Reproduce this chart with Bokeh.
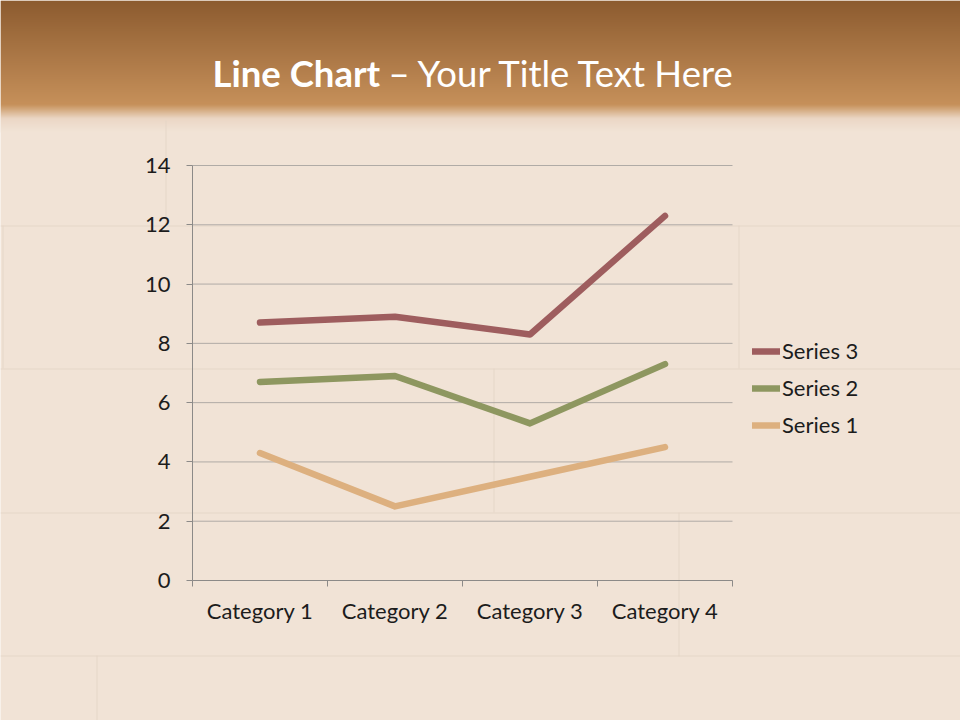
import numpy as np
from bokeh.plotting import figure
from bokeh.models import Range1d, FixedTicker, Legend, LegendItem
from bokeh.core.properties import value
from bokeh.embed import file_html
from bokeh.resources import INLINE

# ---- data ----
categories = ["Category 1", "Category 2", "Category 3", "Category 4"]
series1 = [4.3, 2.5, 3.5, 4.5]
series2 = [2.4, 4.4, 1.8, 2.8]
series3 = [2.0, 2.0, 3.0, 5.0]
series_names = ["Series 1", "Series 2", "Series 3"]
y_ticks = [0, 2, 4, 6, 8, 10, 12, 14]
title_bold = "Line Chart"
title_rest = "\u2013 Your Title Text Here"

# ---- style ----
FONT = "Lato"
BG = "#F1E3D6"
SEAM = "#E4D4C5"
colors = ["#DDB07F", "#8E9760", "#9E5D5E"]
axis_gray = "#8C8A88"
grid_gray = "#B0ABA6"
text_col = "#1C1C1C"

W, H = 960, 720
# plot-area box on the page (pixels)
PL, PR, PT, PB = 192, 732, 165, 580
n = len(categories)
ymax = 14

# data ranges chosen so that [0,n]x[0,ymax] falls on the plot-area box
sx = (PR - PL) / n
sy = (PB - PT) / ymax
x_range = Range1d(-PL / sx, (W - PL) / sx)
y_range = Range1d(-(H - PB) / sy, PB / sy)

p = figure(width=W, height=H, x_range=x_range, y_range=y_range,
           output_backend="svg", toolbar_location=None, min_border=0)
p.extra_x_ranges = {"px": Range1d(0, W)}
p.extra_y_ranges = {"px": Range1d(H, 0), "pxu": Range1d(0, H)}
p.title.visible = False
p.background_fill_color = BG
p.border_fill_color = BG
p.outline_line_color = None
p.grid.visible = False

# ---- banner gradient (decoration, page pixels) ----
BAND = 132
stops_y = [0, 104, 110, 118, 131]
stops_c = [(140, 91, 47), (198, 144, 90), (214, 174, 134), (235, 215, 197), (241, 227, 214)]
img = np.zeros((BAND, 1), dtype=np.uint32)
view = img.view(dtype=np.uint8).reshape((BAND, 1, 4))
for row in range(BAND):
    yy = BAND - 1 - row + 0.5  # row 0 is the bottom of the band
    for k in range(3):
        view[row, 0, k] = int(round(np.interp(yy, stops_y, [c[k] for c in stops_c])))
    view[row, 0, 3] = 255
p.image_rgba(image=[img], x=0, y=H - BAND, dw=W, dh=BAND, x_range_name="px", y_range_name="pxu")

# faint plank seams
seams_x0 = [165, 0, 2, 0, 493, 0, 678, 0, 96, 738]
seams_y0 = [120, 225, 225, 368, 368, 512, 512, 655, 655, 225]
seams_x1 = [166, 960, 3, 960, 494, 960, 679, 960, 97, 739]
seams_y1 = [225, 226, 368, 369, 512, 513, 656, 656, 720, 368]
p.quad(left=seams_x0, right=seams_x1, top=seams_y0, bottom=seams_y1, fill_color=SEAM,
       fill_alpha=0.8, line_color=None, x_range_name="px", y_range_name="px")

# title
p.text(x=[212], y=[72], text=[title_bold], text_font=value(FONT), text_font_style="bold",
       text_font_size="36.5px", text_color="white", text_baseline="alphabetic", text_align="left",
       x_range_name="px", y_range_name="px")
p.text(x=[388], y=[72], text=[title_rest], text_font=value(FONT),
       text_font_size="36.5px", text_color="white", text_baseline="alphabetic", text_align="left",
       x_range_name="px", y_range_name="px")

# ---- grid lines ----
p.segment(x0=0, x1=n, y0=y_ticks, y1=y_ticks, line_color=grid_gray, line_width=1)

# ---- lines (stacked) ----
xc = np.arange(n) + 0.5
s1 = np.array(series1)
s2 = s1 + np.array(series2)
s3 = s2 + np.array(series3)
renderers = []
for ys_, c in zip([s1, s2, s3], colors):
    r = p.line(xc, ys_, line_color=c, line_width=6.5, line_cap="round", line_join="round")
    renderers.append(r)

# ---- axes ----
yax = p.yaxis[0]
yax.fixed_location = 0
yax.bounds = (0, ymax)
yax.ticker = FixedTicker(ticks=y_ticks)
yax.axis_line_color = axis_gray
yax.major_tick_line_color = axis_gray
yax.major_tick_out = 6
yax.major_tick_in = 0
yax.minor_tick_line_color = None
yax.major_label_standoff = 16
yax.major_label_text_font = FONT
yax.major_label_text_font_size = "22px"
yax.major_label_text_color = text_col

xax = p.xaxis[0]
xax.fixed_location = 0
xax.bounds = (0, n)
xax.ticker = FixedTicker(ticks=list(xc), minor_ticks=list(range(n + 1)))
xax.major_label_overrides = {float(x): c for x, c in zip(xc, categories)}
xax.axis_line_color = axis_gray
xax.major_tick_line_color = None
xax.major_tick_out = 0
xax.major_tick_in = 0
xax.minor_tick_line_color = axis_gray
xax.minor_tick_out = 6
xax.minor_tick_in = 0
xax.major_label_standoff = 10
xax.major_label_text_font = FONT
xax.major_label_text_font_size = "22px"
xax.major_label_text_color = text_col

legend = Legend(items=[LegendItem(label=series_names[i], renderers=[renderers[i]]) for i in [2, 1, 0]],
                location=(752, H - 438), background_fill_alpha=0, border_line_color=None,
                padding=0, margin=0, spacing=10, glyph_width=28, glyph_height=20,
                label_height=20, label_standoff=2, label_text_font=FONT,
                label_text_font_size="22px", label_text_color=text_col)
p.add_layout(legend)

open("out.html", "w").write(file_html(p, INLINE))
